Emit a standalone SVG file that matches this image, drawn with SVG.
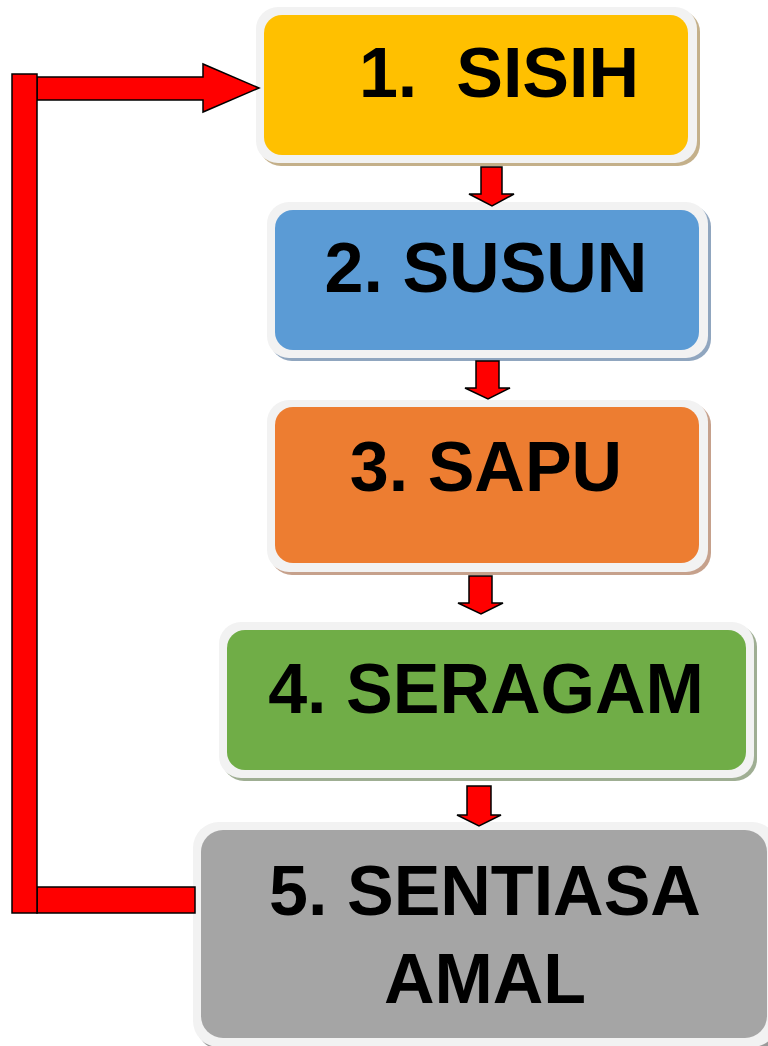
<svg xmlns="http://www.w3.org/2000/svg" width="768" height="1046" viewBox="0 0 768 1046">
<style>
.frame{fill:#f2f2f2}
.lbl{font-family:"Liberation Sans",Arial,sans-serif;font-weight:bold;font-size:70px;fill:#000;text-anchor:middle;white-space:pre}
.arr{fill:#ff0000;stroke:#000;stroke-width:1.5;stroke-linejoin:miter}
</style>
<rect width="768" height="1046" fill="#fff"/>
<g id="node1">
<rect x="259" y="10" width="441" height="156" rx="22" fill="#c4b08a"/>
<rect class="frame" x="256" y="7" width="441" height="156" rx="22"/>
<rect x="264" y="15" width="424" height="140" rx="18" fill="#ffc000"/>
<text class="lbl" x="499" y="97" xml:space="preserve">1.  SISIH</text>
</g>
<g id="node2">
<rect x="270" y="205" width="441" height="156" rx="22" fill="#90a6bf"/>
<rect class="frame" x="267" y="202" width="441" height="156" rx="22"/>
<rect x="275" y="210" width="424" height="140" rx="18" fill="#5b9bd5"/>
<text class="lbl" x="486" y="292">2. SUSUN</text>
</g>
<g id="node3">
<rect x="270" y="403" width="441" height="172" rx="22" fill="#c6a18c"/>
<rect class="frame" x="267" y="400" width="441" height="172" rx="22"/>
<rect x="275" y="407" width="424" height="156" rx="18" fill="#ed7d31"/>
<text class="lbl" x="486" y="491">3. SAPU</text>
</g>
<g id="node4">
<rect x="222" y="625" width="535" height="156" rx="22" fill="#9fae93"/>
<rect class="frame" x="219" y="622" width="535" height="156" rx="22"/>
<rect x="227" y="630" width="519" height="140" rx="18" fill="#70ad47"/>
<text class="lbl" x="486" y="713">4. SERAGAM</text>
</g>
<g id="node5">
<rect x="196" y="825" width="585" height="225" rx="26" fill="#9a9a9a"/>
<rect class="frame" x="193" y="822" width="585" height="225" rx="26"/>
<rect x="201" y="830" width="566" height="208" rx="22" fill="#a5a5a5"/>
<text class="lbl" x="485" y="915">5. SENTIASA</text>
<text class="lbl" x="485" y="1003">AMAL</text>
</g>
<g id="connectors">
<polygon class="arr" points="481,167 502,167 502,194 514,194 492,206 469,194 481,194"/>
<polygon class="arr" points="476,361 499,361 499,388 510,388 488,399 465,388 476,388"/>
<polygon class="arr" points="469,576 492,576 492,603 503,603 481,614 458,603 469,603"/>
<polygon class="arr" points="467,786 491,786 491,815 501,815 479,826 457,815 467,815"/>
<rect class="arr" x="37" y="887" width="158" height="26"/>
<polygon class="arr" points="37,77 203,77 203,64 259,88 203,112 203,100 37,100"/>
<rect class="arr" x="12" y="74" width="25" height="839"/>
</g>
</svg>
